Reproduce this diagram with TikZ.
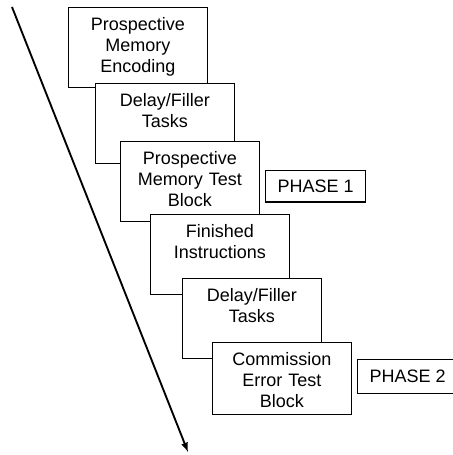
\documentclass[tikz,border=0pt]{standalone}
\usepackage{fontspec}
\setmainfont{Liberation Sans}
\tikzset{
  stage/.style={rectangle, draw, fill=white, line width=0.9pt, anchor=north west,
    text width=97pt, align=center, inner xsep=3.5pt, inner ysep=7pt,
    text height=10pt, text depth=#1, font=\fontsize{13.5}{15.75}\selectfont},
  stage/.default=36pt,
  phase/.style={rectangle, draw, fill=white, line width=0.9pt, anchor=north west,
    minimum width=75pt, minimum height=#1, inner sep=2pt,
    font=\fontsize{13.5}{15.75}\selectfont},
  phase/.default=23.5pt
}
\begin{document}
\begin{tikzpicture}[x=0.75pt, y=-0.75pt]
    \clip (0,0) rectangle (453,455);
    % Time runs downwards
    \coordinate (start) at (12,7);
    \coordinate (stop) at (188,452);
    \draw[-latex, line width=1.4pt] (start) -- (stop);
    % Staircase of stages, each one laid over the last
    \node[stage] (encoding) at (68,7) {Prospective\\Memory\\Encoding};
    \node[stage] (delay1) at (95,83) {Delay/Filler\\Tasks};
    \node[stage] (pmtest) at (120,141) {Prospective\\Memory Test\\Block};
    \node[stage] (finished) at (150,214) {Finished\\Instructions};
    \node[stage] (delay2) at (182,278) {Delay/Filler\\Tasks};
    \node[stage=30pt] (cetest) at (212,342) {Commission\\Error Test\\Block};
    % Phase labels
    \node[phase] (phase1) at (265,170) {PHASE 1};
    \node[phase=25.5pt] (phase2) at (357,359) {PHASE 2};
\end{tikzpicture}
\end{document}
